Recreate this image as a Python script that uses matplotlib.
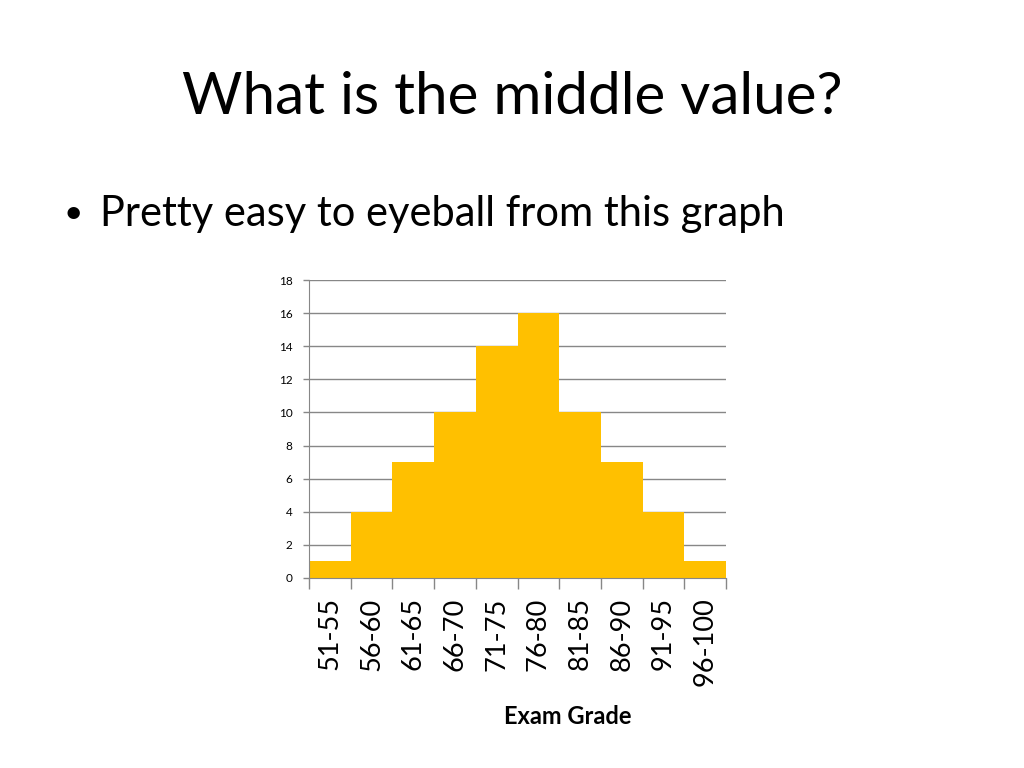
import matplotlib.pyplot as plt

# Exam grade distribution
grade_bins = ["51-55", "56-60", "61-65", "66-70", "71-75",
              "76-80", "81-85", "86-90", "91-95", "96-100"]
counts = [1, 4, 7, 10, 14, 16, 10, 7, 4, 1]
y_ticks = [0, 2, 4, 6, 8, 10, 12, 14, 16, 18]

plt.rcParams['font.family'] = ['Lato', 'DejaVu Sans']

fig = plt.figure(figsize=(10.24, 7.68), dpi=100)
fig.patch.set_facecolor("white")

# Slide text
fig.text(0.5, 0.873, "What is the middle value?", ha="center", va="center",
         fontsize=42, color="black")
fig.text(0.062, 0.722, "\u2022", ha="left", va="center", fontsize=24)
fig.text(0.098, 0.722, "Pretty easy to eyeball from this graph", ha="left",
         va="center", fontsize=30, color="black")

ax = fig.add_axes([0.3018, 0.2474, 0.4072, 0.388])
x = list(range(len(grade_bins)))
ax.bar(x, counts, width=1.0, color="#FFC000", zorder=2)

ax.set_xlim(-0.5, len(grade_bins) - 0.5)
ax.set_ylim(0, 18)
ax.set_yticks(y_ticks)
ax.set_yticklabels([str(v) for v in y_ticks], fontsize=8.5)
ax.yaxis.grid(True, color="#878787", linewidth=1.0, zorder=0)
ax.set_axisbelow(True)

# category labels centered, tick marks at the bin boundaries
ax.set_xticks(x)
ax.set_xticklabels(grade_bins, rotation=90, fontsize=19.5)
ax.tick_params(axis="x", length=0, pad=14)
ax.set_xticks([i - 0.5 for i in range(len(grade_bins) + 1)], minor=True)
ax.tick_params(axis="x", which="minor", length=8, color="#878787", width=1)
ax.tick_params(axis="y", length=4, color="#878787", width=1, pad=8)

for side in ["top", "right"]:
    ax.spines[side].set_visible(False)
for side in ["left", "bottom"]:
    ax.spines[side].set_color("#878787")

# axis title sits right of centre, as on the slide
fig.text(568 / 1024, 1 - 716 / 768, "Exam Grade", ha="center", va="center",
         fontsize=17, fontweight="bold")

plt.savefig("out.png", dpi=100)
